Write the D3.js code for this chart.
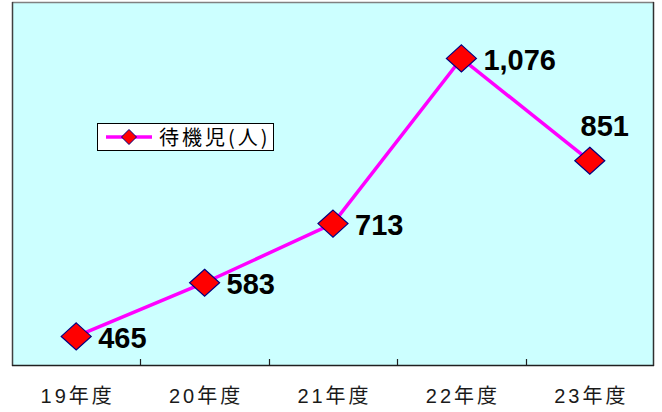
<!DOCTYPE html>
<html><head><meta charset="utf-8">
<script src="https://cdn.jsdelivr.net/npm/d3@7"></script>
<style>body{margin:0;background:#fff}svg{display:block}</style>
</head><body>
<svg id="c" width="662" height="412"></svg>
<script>
const categories = ["19年度","20年度","21年度","22年度","23年度"];
const values = [465, 583, 713, 1076, 851];
const valueLabels = ["465","583","713","1,076","851"];
const seriesName = "待機児(人)";
const yDomain = [400, 1200];

const svg = d3.select("#c");
const L = 12, R = 654, T = 2, B = 366;
const x = d3.scaleBand().domain(categories).range([L, R]).padding(0);
const y = d3.scaleLinear().domain(yDomain).range([B, T]);
const cx = c => x(c) + x.bandwidth()/2;

svg.append("rect").attr("x", L).attr("y", T).attr("width", R-L).attr("height", B-T)
  .attr("fill", "#CCFFFF").attr("stroke", "none");
// borders
svg.append("line").attr("x1", L).attr("x2", R).attr("y1", T+0.5).attr("y2", T+0.5).attr("stroke", "#808080").attr("stroke-width", 1.5);
svg.append("line").attr("x1", R-0.5).attr("x2", R-0.5).attr("y1", T).attr("y2", B).attr("stroke", "#303030").attr("stroke-width", 1.5);
svg.append("line").attr("x1", L+0.5).attr("x2", L+0.5).attr("y1", T).attr("y2", B).attr("stroke", "#404040").attr("stroke-width", 1.5);
svg.append("line").attr("x1", L).attr("x2", R).attr("y1", B-0.5).attr("y2", B-0.5).attr("stroke", "#202020").attr("stroke-width", 1.5);
// ticks at band boundaries
const bounds = categories.map(c => x(c)).concat([x(categories[categories.length-1]) + x.bandwidth()]);
svg.selectAll(".tk").data(bounds.slice(1, -1)).enter().append("line")
  .attr("x1", d => Math.round(d)+0.5).attr("x2", d => Math.round(d)+0.5)
  .attr("y1", B-7).attr("y2", B).attr("stroke", "#202020").attr("stroke-width", 1.2);
// axis labels
svg.selectAll(".xl").data(categories).enter().append("text")
  .attr("x", d => cx(d) + 1.5).attr("y", 403).attr("text-anchor", "middle")
  .attr("font-family", "'Liberation Sans','Noto Sans CJK JP',sans-serif")
  .attr("font-size", 20).attr("fill", "#1a1a1a").attr("letter-spacing", 3).text(d => d);

// line
const pts = categories.map((c, i) => [cx(c), y(values[i])]);
svg.append("path").attr("d", d3.line()(pts)).attr("fill", "none")
  .attr("stroke", "#FF00FF").attr("stroke-width", 3.5);

const diamond = (w, h) => `M0,${-h/2}L${w/2},0L0,${h/2}L${-w/2},0Z`;
svg.selectAll(".mk").data(pts).enter().append("path")
  .attr("transform", d => `translate(${d[0]},${d[1]})`)
  .attr("d", diamond(30, 27)).attr("fill", "#FF0000").attr("stroke", "#000080").attr("stroke-width", 1.2);

// value labels
svg.selectAll(".vl").data(pts).enter().append("text")
  .attr("x", (d, i) => i === 4 ? d[0] + 15 : d[0] + 22)
  .attr("y", (d, i) => i === 4 ? d[1] - 25 : d[1] + 11.5)
  .attr("text-anchor", (d, i) => i === 4 ? "middle" : "start")
  .attr("font-family", "'Liberation Sans',Arial,sans-serif").attr("font-weight", "bold")
  .attr("font-size", 29).attr("fill", "#000").text((d, i) => valueLabels[i]);

// legend
const lg = svg.append("g");
lg.append("rect").attr("x", 97.5).attr("y", 123.5).attr("width", 176).attr("height", 27)
  .attr("fill", "#fff").attr("stroke", "#000").attr("stroke-width", 1);
lg.append("line").attr("x1", 106).attr("x2", 152).attr("y1", 137).attr("y2", 137)
  .attr("stroke", "#FF00FF").attr("stroke-width", 3.5);
lg.append("path").attr("transform", "translate(129,137)").attr("d", diamond(15, 15))
  .attr("fill", "#FF0000").attr("stroke", "#000080").attr("stroke-width", 1);
lg.append("text").attr("x", 159).attr("y", 145).attr("font-size", 20)
  .attr("font-family", "'Noto Sans CJK JP',sans-serif").attr("fill", "#000")
  .attr("letter-spacing", 3).text(seriesName);
</script>
</body></html>
